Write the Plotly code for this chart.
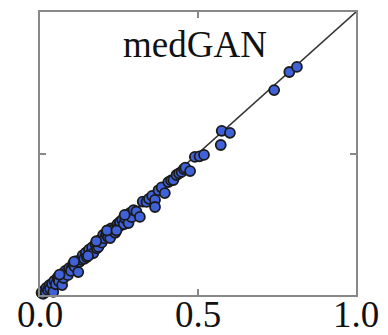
import plotly.graph_objects as go

real_vals = [0.005,0.01,0.012,0.018,0.02,0.025,0.03,0.032,0.038,0.042,0.045,0.05,0.055,0.058,0.06,0.065,0.07,0.072,0.075,0.08,0.084,0.088,0.092,0.1,0.098,
             0.105,0.11,0.115,0.121,0.125,0.13,0.135,0.14,0.145,0.148,0.155,0.16,0.165,0.169,0.175,0.18,0.185,0.19,0.195,0.2,0.205,0.21,0.215,0.222,0.225,0.232,0.238,0.245,0.25,0.253,0.26,0.265,0.27,0.275,0.28,0.285,0.29,0.296,0.305,0.316,
             0.325,0.337,0.345,0.355,0.364,0.364,0.375,0.385,0.395,0.406,0.415,0.422,0.432,0.44,0.448,0.455,0.46,0.475,0.49,0.505,0.519,0.575,0.601,0.572,0.741,0.789,0.813,
             0.062,0.108,0.152,0.178,0.212,0.242,0.268]
gen_vals = [0.008,0.004,0.015,0.01,0.025,0.018,0.035,0.022,0.04,0.011,0.05,0.038,0.06,0.064,0.048,0.07,0.035,0.075,0.06,0.085,0.078,0.07,0.095,0.095,0.085,
            0.11,0.1,0.12,0.081,0.117,0.125,0.14,0.128,0.15,0.134,0.16,0.145,0.168,0.148,0.18,0.165,0.17,0.195,0.185,0.212,0.2,0.215,0.205,0.201,0.235,0.23,0.22,0.25,0.242,0.258,0.265,0.25,0.27,0.283,0.254,0.29,0.275,0.3,0.295,0.276,
            0.33,0.329,0.34,0.35,0.336,0.311,0.37,0.38,0.36,0.399,0.405,0.406,0.424,0.43,0.435,0.445,0.45,0.438,0.488,0.49,0.495,0.58,0.573,0.53,0.724,0.788,0.806,
            0.072,0.118,0.138,0.19,0.228,0.228,0.283]
diag = [0, 1]
tick_vals = [0, 0.5, 1]
tick_text = ["0.0", "0.5", "1.0"]
title = "medGAN"

fig = go.Figure()
fig.add_trace(go.Scatter(x=diag, y=diag, mode="lines",
                         line=dict(color="#333333", width=1.6), showlegend=False))
fig.add_trace(go.Scatter(x=real_vals, y=gen_vals, mode="markers",
                         marker=dict(size=10, color="#3f62d8", line=dict(color="#1a1a1a", width=1.8)),
                         showlegend=False, cliponaxis=False))

axis_common = dict(range=[0, 1], showgrid=False, zeroline=False, showline=True,
                   linecolor="#888888", linewidth=1.5, mirror="ticks", ticks="inside",
                   ticklen=6, tickwidth=1.5, tickcolor="#888888", tickvals=tick_vals,
                   automargin=False)
fig.update_xaxes(**axis_common, ticktext=tick_text, ticklabelstandoff=-14,
                 tickfont=dict(family="Liberation Serif", size=37, color="#111111"))
fig.update_yaxes(**axis_common, showticklabels=False)

fig.add_annotation(x=0.49, y=0.885, xref="x", yref="y", text=title, showarrow=False,
                   font=dict(family="Liberation Serif", size=37, color="#111111"))

fig.update_layout(width=388, height=335, margin=dict(l=40, r=32, t=12, b=40),
                  plot_bgcolor="white", paper_bgcolor="white")
fig.write_html("out.html")
